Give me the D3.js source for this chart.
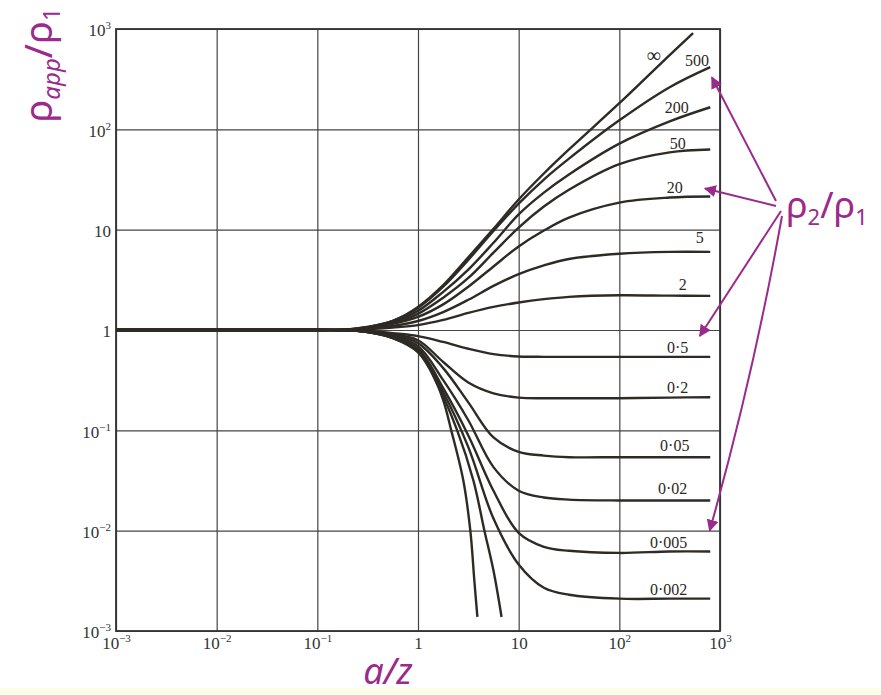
<!DOCTYPE html>
<html>
<head>
    <title>Two-layer apparent resistivity curves</title>
    <script src="https://cdnjs.cloudflare.com/ajax/libs/d3/7.8.5/d3.min.js"></script>
    <style>
        body {
            margin: 0;
            background: #ffffff;
        }
        .band {
            fill: #fbfde8;
        }
        .grid line {
            stroke: #444;
            stroke-width: 1.2;
        }
        .grid path {
            display: none;
        }
        .tick-label {
            font-family: "Liberation Serif", serif;
            font-size: 17px;
            fill: #333;
        }
        .curve {
            fill: none;
            stroke: #2e2a26;
            stroke-width: 2.4;
        }
        .curve-label {
            font-family: "Liberation Serif", serif;
            font-size: 16px;
            fill: #2c2824;
        }
        .purple-text {
            font-family: "Noto Sans", sans-serif;
            fill: #9a2a8c;
        }
        .arrow {
            stroke: #9a2a8c;
            stroke-width: 2;
            fill: none;
        }
    </style>
</head>
<body>
    <div id="chart"></div>
    <script>
        // axis ticks (decades)
        const xTicks = [1e-3, 1e-2, 1e-1, 1, 10, 100, 1000];
        const yTicks = [1e-3, 1e-2, 1e-1, 1, 10, 100, 1000];

        // common a/z sample points for most curves
        const xGrid = [0.001, 0.1, 0.178, 0.316, 0.562, 1, 1.78, 3.16, 5.62, 10, 17.8, 31.6, 100, 316, 800];

        // rho2/rho1 labels, top to bottom
        const ratios = ["∞", "500", "200", "50", "20", "5", "2", "0·5", "0·2", "0·05", "0·02", "0·005", "0·002"];

        // apparent resistivity ratio read at xGrid
        const yInf   = [1, 1, 1, 1.07, 1.23, 1.7, 2.8, 5.3, 10.2, 20, 36.3, 63, 182, 550, 910];
        const y500   = [1, 1, 1, 1.07, 1.23, 1.66, 2.7, 5.0, 9.7, 18.2, 31.6, 51, 123, 263, 417];
        const y200   = [1, 1, 1, 1.06, 1.2, 1.55, 2.4, 4.0, 7.4, 14.2, 23.4, 35.5, 72, 120, 166];
        const y50    = [1, 1, 1, 1.05, 1.17, 1.45, 2.1, 3.3, 5.9, 10.5, 17.0, 25, 45, 59, 63];
        const y20    = [1, 1, 1, 1.05, 1.15, 1.35, 1.8, 2.7, 4.3, 6.8, 9.8, 13.2, 18.6, 20.9, 21.4];
        const y5     = [1, 1, 1, 1.035, 1.1, 1.23, 1.51, 2.0, 2.75, 3.6, 4.4, 5.1, 5.75, 6.0, 6.0];
        const y2     = [1, 1, 1, 1.02, 1.06, 1.12, 1.26, 1.48, 1.7, 1.88, 2.03, 2.14, 2.22, 2.2, 2.19];
        const y0_5   = [1, 1, 1, 0.98, 0.93, 0.87, 0.76, 0.65, 0.575, 0.545, 0.54, 0.54, 0.54, 0.54, 0.54];
        const y0_2   = [1, 1, 1, 0.97, 0.91, 0.79, 0.48, 0.3, 0.234, 0.212, 0.209, 0.209, 0.209, 0.212, 0.214];
        const y0_05  = [1, 1, 1, 0.965, 0.89, 0.74, 0.417, 0.19, 0.085, 0.061, 0.056, 0.054, 0.054, 0.054, 0.054];
        const y0_02  = [1, 1, 1, 0.96, 0.87, 0.69, 0.316, 0.126, 0.043, 0.025, 0.0214, 0.0204, 0.02, 0.02, 0.02];
        const y0_005 = [1, 1, 1, 0.955, 0.85, 0.65, 0.263, 0.089, 0.025, 0.0095, 0.0069, 0.0063, 0.006, 0.0062, 0.0062];
        const y0_002 = [1, 1, 1, 0.955, 0.84, 0.63, 0.24, 0.068, 0.0132, 0.0046, 0.0027, 0.0023, 0.0021, 0.0021, 0.0021];

        // the infinite-ratio curve stops earlier
        const xInf = [0.001, 0.1, 0.178, 0.316, 0.562, 1, 1.78, 3.16, 5.62, 10, 17.8, 31.6, 100, 316, 540];

        // two unlabelled steep curves (very small ratios)
        const xZeroA = [0.001, 0.1, 0.178, 0.316, 0.562, 1, 1.41, 1.78, 2.14, 2.82, 3.31, 3.63, 3.89];
        const yZeroA = [1, 1, 1, 0.955, 0.83, 0.6, 0.355, 0.2, 0.1, 0.0316, 0.01, 0.00316, 0.00138];
        const xZeroB = [0.001, 0.1, 0.178, 0.316, 0.562, 1, 1.58, 2.45, 3.55, 4.57, 5.62, 6.76];
        const yZeroB = [1, 1, 1, 0.955, 0.83, 0.62, 0.28, 0.1, 0.0316, 0.01, 0.004, 0.00138];

        // where each ratio label sits (data coordinates)
        const labelX = [219, 590, 372, 380, 355, 630, 427, 380, 380, 355, 339, 309, 309];
        const labelY = [550, 490, 166, 72, 26.3, 8.3, 2.82, 0.676, 0.269, 0.0708, 0.0263, 0.0076, 0.0026];

        // arrow targets from the rho2/rho1 note (data coordinates)
        const arrowX = [830, 710, 630, 790];
        const arrowY = [330, 25.7, 0.87, 0.01];

        const series = [
            { x: xInf, y: yInf }, { x: xGrid, y: y500 }, { x: xGrid, y: y200 },
            { x: xGrid, y: y50 }, { x: xGrid, y: y20 }, { x: xGrid, y: y5 },
            { x: xGrid, y: y2 }, { x: xGrid, y: y0_5 }, { x: xGrid, y: y0_2 },
            { x: xGrid, y: y0_05 }, { x: xGrid, y: y0_02 }, { x: xGrid, y: y0_005 },
            { x: xGrid, y: y0_002 }, { x: xZeroA, y: yZeroA }, { x: xZeroB, y: yZeroB }
        ];

        const W = 881, H = 695;
        const margin = { top: 29, right: 161, bottom: 64, left: 116 };
        const width = W - margin.left - margin.right;
        const height = H - margin.top - margin.bottom;

        const root = d3.select("#chart").append("svg")
            .attr("width", W)
            .attr("height", H);

        root.append("rect")
            .attr("class", "band")
            .attr("x", 0).attr("y", 688)
            .attr("width", W).attr("height", H - 688);

        const svg = root.append("g")
            .attr("transform", `translate(${margin.left},${margin.top})`);

        const x = d3.scaleLog().domain([1e-3, 1e3]).range([0, width]);
        const y = d3.scaleLog().domain([1e-3, 1e3]).range([height, 0]);

        function powLabel(d) {
            const t = d3.select(this);
            const e = Math.round(Math.log10(d));
            t.text("").attr("class", "tick-label").attr("fill", null);
            if (e === 0) { t.text("1"); return; }
            t.append("tspan").text("10");
            if (e === 1) return;
            t.append("tspan")
                .attr("dy", -7)
                .attr("font-size", 11)
                .text(e < 0 ? "\u2212" + (-e) : e);
        }

        svg.append("g")
            .attr("class", "grid")
            .attr("transform", `translate(0,${height})`)
            .call(d3.axisBottom(x).tickValues(xTicks).tickSize(-height).tickPadding(6))
            .selectAll(".tick text")
            .each(powLabel);

        svg.append("g")
            .attr("class", "grid")
            .call(d3.axisLeft(y).tickValues(yTicks).tickSize(-width).tickPadding(5))
            .selectAll(".tick text")
            .attr("dy", "0.4em")
            .each(powLabel);

        svg.append("rect")
            .attr("width", width)
            .attr("height", height)
            .attr("fill", "none")
            .attr("stroke", "#333")
            .attr("stroke-width", 1.8);

        const line = d3.line()
            .x(d => x(d[0]))
            .y(d => y(d[1]))
            .curve(d3.curveCatmullRom.alpha(0.5));

        series.forEach(s => {
            svg.append("path")
                .attr("class", "curve")
                .attr("d", line(s.x.map((v, i) => [v, s.y[i]])));
        });

        ratios.forEach((r, i) => {
            svg.append("text")
                .attr("class", "curve-label")
                .attr("x", x(labelX[i]))
                .attr("y", y(labelY[i]))
                .attr("text-anchor", "middle")
                .attr("dy", "0.35em")
                .style("font-size", r === "∞" ? "20px" : null)
                .text(r);
        });

        // purple annotations
        root.append("defs").append("marker")
            .attr("id", "head")
            .attr("viewBox", "0 0 10 10")
            .attr("refX", 9).attr("refY", 5)
            .attr("markerWidth", 6).attr("markerHeight", 6)
            .attr("orient", "auto")
            .append("path")
            .attr("d", "M0,0L10,5L0,10z")
            .attr("fill", "#9a2a8c");

        const noteX = width + 56, noteY = 180;
        arrowX.forEach((ax, i) => {
            const sx = noteX + (i < 2 ? 0 : 3 + i);
            const sy = noteY - 8 + i * 5;
            const tx = x(ax), ty = y(arrowY[i]);
            const path = i === 3
                ? `M${sx},${sy} Q${(sx + tx) / 2 + 8},${(sy + ty) / 2} ${tx},${ty}`
                : `M${sx},${sy} L${tx},${ty}`;
            svg.append("path")
                .attr("class", "arrow")
                .attr("d", path)
                .attr("marker-end", "url(#head)");
        });

        const note = svg.append("text")
            .attr("class", "purple-text")
            .attr("x", noteX + 10)
            .attr("y", noteY + 9)
            .style("font-size", "36px");
        note.append("tspan").text("ρ");
        note.append("tspan").attr("dy", 7).style("font-size", "22px").text("2");
        note.append("tspan").attr("dy", -7).text("/ρ");
        note.append("tspan").attr("dy", 7).style("font-size", "22px").text("1");

        const yTitle = root.append("text")
            .attr("class", "purple-text")
            .attr("transform", "translate(52,65) rotate(-90)")
            .attr("text-anchor", "middle")
            .style("font-size", "38px");
        yTitle.append("tspan").text("ρ");
        yTitle.append("tspan").attr("dy", 8).style("font-size", "24px").style("font-style", "italic").text("app");
        yTitle.append("tspan").attr("dy", -8).text("/ρ");
        yTitle.append("tspan").attr("dy", 8).style("font-size", "24px").text("1");

        root.append("text")
            .attr("class", "purple-text")
            .attr("x", 388)
            .attr("y", 684)
            .attr("text-anchor", "middle")
            .style("font-size", "36px")
            .style("font-style", "italic")
            .text("a/z");
    </script>
</body>
</html>
